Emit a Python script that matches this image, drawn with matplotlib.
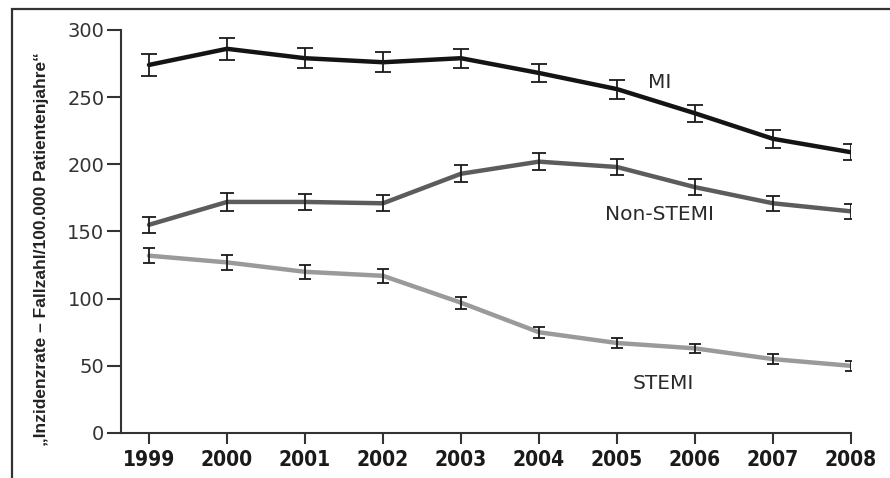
import numpy as np
import matplotlib
matplotlib.use('Agg')
import matplotlib.pyplot as plt
from matplotlib.patches import Rectangle

# data
years = [1999, 2000, 2001, 2002, 2003, 2004, 2005, 2006, 2007, 2008]
mi = [274, 286, 279, 276, 279, 268, 256, 238, 219, 209]
mi_err = [8.5, 8.2, 7.5, 7.5, 7, 7, 7, 6.5, 6.5, 6]
nstemi = [155, 172, 172, 171, 193, 202, 198, 183, 171, 165]
nstemi_err = [6, 6.5, 6, 6, 6.5, 6.5, 6, 6, 5.5, 5.5]
stemi = [132, 127, 120, 117, 97, 75, 67, 63, 55, 50]
stemi_err = [5.5, 5.5, 5, 5, 4.5, 4, 4, 3.5, 3.5, 3.5]
yticks = [0, 50, 100, 150, 200, 250, 300]
ylabel = '\u201eInzidenzrate \u2013 Fallzahl/100.000 Patientenjahre\u201c'

fig = plt.figure(figsize=(8.9, 4.78), dpi=100)
ax = fig.add_axes([121/890, 45/478, 730/890, 403/478])

series = [
    (mi, mi_err, '#141414', 6.0),
    (nstemi, nstemi_err, '#5c5c5c', 5.0),
    (stemi, stemi_err, '#9a9a9a', 4.0),
]
for vals, err, col, cap in series:
    ax.plot(years, vals, color=col, lw=3.2, solid_capstyle='round', zorder=2)
    ax.errorbar(years, vals, yerr=err, fmt='none', ecolor='#1a1a1a',
                elinewidth=1.3, capsize=cap, capthick=1.3, zorder=3)

lab = dict(fontsize=14.5, color='#2a2a2a', ha='center', va='center')
ax.text(2005.55, 261, 'MI', **lab)
ax.text(2005.55, 163, 'Non-STEMI', **lab)
ax.text(2005.6, 37, 'STEMI', **lab)

ax.set_xlim(1999 - 28/78, 2008)
ax.set_ylim(0, 300)
ax.set_xticks(years)
ax.set_xticklabels([str(y) for y in years], fontsize=15, fontweight='bold',
                   fontstretch='condensed', color='#1a1a1a')
ax.set_yticks(yticks)
ax.set_yticklabels([str(t) for t in yticks], fontsize=14, color='#333333')
ax.tick_params(axis='x', length=8, width=1.5, color='#333333', pad=4)
ax.tick_params(axis='y', length=10, width=1.5, color='#333333', pad=2)
for s in ['top', 'right']:
    ax.spines[s].set_visible(False)
for s in ['left', 'bottom']:
    ax.spines[s].set_linewidth(1.5)
    ax.spines[s].set_color('#333333')
ax.patch.set_alpha(0)

fig.text(42/890, (478 - 249)/478, ylabel, rotation=90, ha='center', va='center',
         fontsize=12.5, fontweight='bold', family='Liberation Sans', color='#222222')

# frame around the figure (open at right and bottom like the scan)
fig.add_artist(Rectangle((12/890, -0.1), 1.2, (478 - 9)/478 + 0.1,
                         transform=fig.transFigure, fill=False,
                         edgecolor='#333333', lw=1.6))

fig.savefig('out.png', dpi=100)
